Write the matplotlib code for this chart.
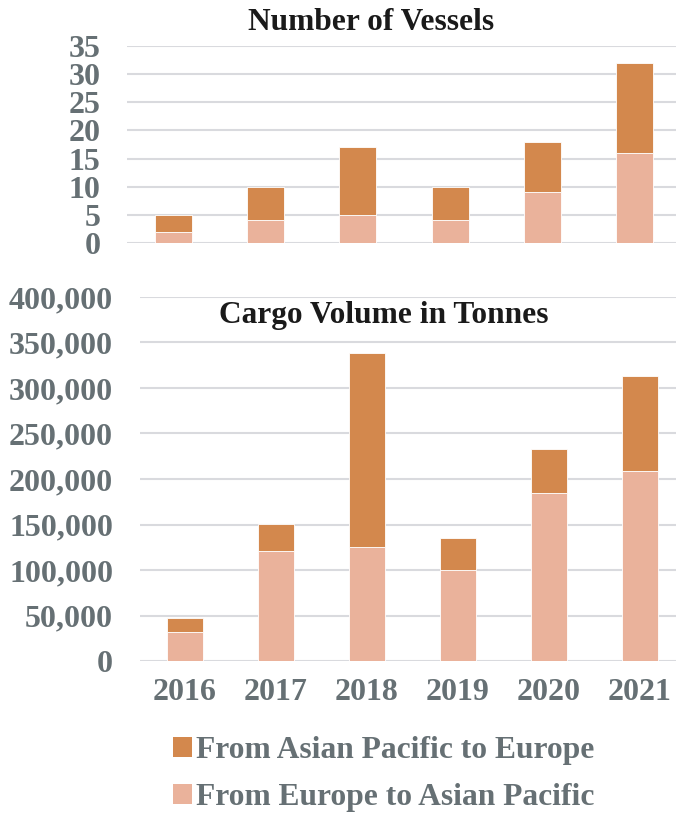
import matplotlib
matplotlib.use("Agg")
import matplotlib.pyplot as plt
from matplotlib.patches import Patch
from matplotlib.ticker import FuncFormatter

years = ["2016", "2017", "2018", "2019", "2020", "2021"]
vessels_eu_to_ap = [2, 4, 5, 4, 9, 16]
vessels_ap_to_eu = [3, 6, 12, 6, 9, 16]
cargo_eu_to_ap = [32000, 120500, 125000, 100000, 184700, 208700]
cargo_ap_to_eu = [15000, 30000, 213800, 34800, 48100, 104600]
vessel_ticks = [0, 5, 10, 15, 20, 25, 30, 35]
cargo_ticks = [0, 50000, 100000, 150000, 200000, 250000, 300000, 350000, 400000]
label_ap_to_eu = "From Asian Pacific to Europe"
label_eu_to_ap = "From Europe to Asian Pacific"

DARK = "#D3884D"
LIGHT = "#EAB29B"
GRID = "#D9DADE"
TICK = "#667074"
FONT = "Liberation Serif"
TSIZE = 23

W, H = 676, 813
fig = plt.figure(figsize=(W / 100, H / 100), dpi=100)


def rect(l, t, r, b):
    return [l / W, 1 - b / H, (r - l) / W, (b - t) / H]


ax1 = fig.add_axes(rect(127, 46, 681, 243))
ax2 = fig.add_axes(rect(139.5, 297, 685.5, 661))

x = list(range(len(years)))
width = 0.4

ax1.bar(x, vessels_eu_to_ap, width, color=LIGHT, edgecolor="white", linewidth=0.6, zorder=3)
ax1.bar(x, vessels_ap_to_eu, width, bottom=vessels_eu_to_ap, color=DARK,
        edgecolor="white", linewidth=0.6, zorder=3)
ax2.bar(x, cargo_eu_to_ap, width, color=LIGHT, edgecolor="white", linewidth=0.6, zorder=3)
ax2.bar(x, cargo_ap_to_eu, width, bottom=cargo_eu_to_ap, color=DARK,
        edgecolor="white", linewidth=0.6, zorder=3)

ax2.yaxis.set_major_formatter(FuncFormatter(lambda v, p: f"{int(v):,}"))

for ax, ticks in ((ax1, vessel_ticks), (ax2, cargo_ticks)):
    ax.set_xlim(-0.5, len(years) - 0.5)
    ax.set_ylim(ticks[0], ticks[-1])
    ax.set_yticks(ticks)
    ax.grid(axis="y", color=GRID, linewidth=1.5, zorder=0)
    ax.set_axisbelow(True)
    for s in ax.spines.values():
        s.set_visible(False)
    ax.tick_params(axis="both", length=0, labelcolor=TICK)
    for lab in ax.get_yticklabels():
        lab.set_fontfamily(FONT)
        lab.set_fontweight("bold")
        lab.set_fontsize(TSIZE)
    ax.patch.set_alpha(0)

ax1.tick_params(axis="y", pad=19)
ax1.set_xticks(x)
ax1.set_xticklabels([])
ax2.tick_params(axis="y", pad=19)
ax2.set_xticks(x)
ax2.set_xticklabels(years, fontfamily=FONT, fontweight="bold", fontsize=TSIZE, color=TICK)
ax2.tick_params(axis="x", pad=12)

fig.text(371 / W, 1 - 22 / H, "Number of Vessels", ha="center", va="center",
         fontfamily=FONT, fontweight="bold", fontsize=22.6, color="#1A1A1A")
fig.text(384 / W, 1 - 315 / H, "Cargo Volume in Tonnes", ha="center", va="center",
         fontfamily=FONT, fontweight="bold", fontsize=22.6, color="#1A1A1A")

handles = [Patch(facecolor=DARK, edgecolor="none"), Patch(facecolor=LIGHT, edgecolor="none")]
leg = fig.legend(handles, [label_ap_to_eu, label_eu_to_ap], loc="center left",
                 bbox_to_anchor=(160 / W, 1 - 774 / H), frameon=False, borderaxespad=0,
                 prop={"family": FONT, "weight": "bold", "size": 22.7},
                 handlelength=0.6, handleheight=0.6, handletextpad=0.15, labelspacing=0.56)
for t in leg.get_texts():
    t.set_color(TICK)

fig.savefig("out.png", dpi=100)
